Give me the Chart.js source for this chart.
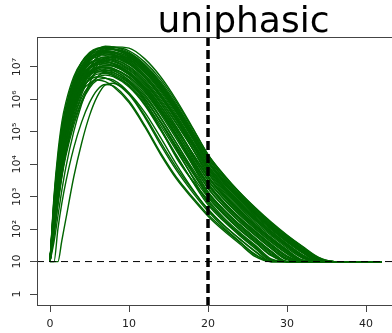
<!DOCTYPE html>
<html>
<head>
<meta charset="utf-8">
<title>uniphasic</title>
<script src="https://cdn.jsdelivr.net/npm/chart.js@4.4.1/dist/chart.umd.min.js"></script>
<style>
  html, body { margin: 0; padding: 0; background: #fff; overflow: hidden; }
  #wrap { width: 487px; height: 333px; }
</style>
</head>
<body>
<div id="wrap"><canvas id="chart" width="487" height="333"></canvas></div>
<script>
// ---------- Data (log10 viral load per simulated run) ----------
const TIMES = [0, 0.5, 1, 1.5, 2, 3, 4, 5, 6, 7, 8, 10, 12, 14, 16, 18, 20, 22, 24, 26, 28, 30, 32, 34, 36, 42];

const sim01 = [1, 2.7, 4.0, 4.95, 5.6, 6.5, 7.05, 7.38, 7.56, 7.64, 7.62, 7.45, 7.08, 6.55, 5.85, 5.05, 4.25, 3.65, 3.12, 2.64, 2.2, 1.8, 1.45, 1.12, 1, 1];
const sim02 = [1, 2.5, 3.8, 4.8, 5.5, 6.45, 7.0, 7.35, 7.55, 7.6, 7.56, 7.35, 6.95, 6.4, 5.7, 4.9, 4.1, 3.5, 2.98, 2.5, 2.07, 1.68, 1.33, 1.05, 1, 1];
const sim03 = [1, 2.3, 3.5, 4.45, 5.15, 6.15, 6.8, 7.2, 7.42, 7.53, 7.55, 7.42, 7.05, 6.5, 5.8, 5.0, 4.2, 3.58, 3.05, 2.57, 2.12, 1.72, 1.38, 1.06, 1, 1];
const sim04 = [1, 3.0, 4.35, 5.3, 5.9, 6.7, 7.15, 7.38, 7.48, 7.5, 7.45, 7.2, 6.75, 6.15, 5.45, 4.7, 3.95, 3.35, 2.85, 2.4, 1.98, 1.6, 1.26, 1.02, 1, 1];
const sim05 = [1, 2.4, 3.6, 4.55, 5.25, 6.2, 6.85, 7.2, 7.38, 7.45, 7.43, 7.25, 6.85, 6.3, 5.6, 4.85, 4.08, 3.48, 2.96, 2.48, 2.04, 1.64, 1.3, 1.03, 1, 1];
const sim06 = [1, 2.0, 3.0, 3.9, 4.6, 5.65, 6.4, 6.95, 7.3, 7.52, 7.62, 7.58, 7.25, 6.7, 5.98, 5.15, 4.3, 3.68, 3.14, 2.66, 2.22, 1.82, 1.46, 1.13, 1, 1];
const sim07 = [1, 2.6, 3.9, 4.85, 5.5, 6.4, 6.95, 7.25, 7.38, 7.4, 7.36, 7.12, 6.68, 6.08, 5.38, 4.62, 3.88, 3.28, 2.78, 2.33, 1.92, 1.54, 1.2, 1, 1, 1];
const sim08 = [1, 2.6, 3.85, 4.85, 5.5, 6.45, 7.0, 7.33, 7.5, 7.57, 7.56, 7.4, 7.02, 6.48, 5.78, 4.98, 4.18, 3.57, 3.04, 2.56, 2.12, 1.72, 1.37, 1.06, 1, 1];
const sim09 = [1, 2.5, 3.7, 4.65, 5.35, 6.25, 6.8, 7.1, 7.25, 7.3, 7.26, 7.0, 6.55, 5.95, 5.25, 4.5, 3.75, 3.15, 2.65, 2.2, 1.8, 1.42, 1.1, 1, 1, 1];
const sim10 = [1, 2.2, 3.35, 4.3, 5.0, 5.95, 6.6, 6.98, 7.17, 7.25, 7.23, 7.02, 6.6, 6.0, 5.28, 4.5, 3.72, 3.1, 2.6, 2.15, 1.74, 1.36, 1.05, 1, 1, 1];
const sim11 = [1, 2.7, 3.95, 4.85, 5.45, 6.3, 6.85, 7.1, 7.2, 7.18, 7.1, 6.82, 6.35, 5.72, 5.0, 4.25, 3.52, 2.94, 2.46, 2.02, 1.62, 1.26, 1, 1, 1, 1];
const sim12 = [1, 1.9, 2.85, 3.75, 4.45, 5.5, 6.25, 6.8, 7.12, 7.3, 7.35, 7.22, 6.82, 6.24, 5.52, 4.74, 3.95, 3.34, 2.82, 2.36, 1.94, 1.55, 1.2, 1, 1, 1];
const sim13 = [1, 2.35, 3.55, 4.5, 5.2, 6.1, 6.65, 6.97, 7.12, 7.15, 7.1, 6.85, 6.4, 5.8, 5.1, 4.35, 3.6, 3.0, 2.5, 2.06, 1.66, 1.3, 1.02, 1, 1, 1];
const sim14 = [1, 2.45, 3.7, 4.65, 5.35, 6.3, 6.9, 7.22, 7.36, 7.4, 7.38, 7.18, 6.76, 6.18, 5.46, 4.68, 3.9, 3.3, 2.8, 2.34, 1.92, 1.53, 1.18, 1, 1, 1];
const sim15 = [1, 2.0, 2.9, 3.7, 4.35, 5.3, 5.95, 6.4, 6.7, 6.85, 6.82, 6.55, 5.95, 5.1, 4.2, 3.5, 2.9, 2.35, 1.9, 1.5, 1.08, 1, 1, 1, 1, 1];
const sim16 = [1, 2.55, 3.75, 4.65, 5.25, 6.1, 6.6, 6.88, 7.0, 6.98, 6.9, 6.6, 6.1, 5.42, 4.65, 3.88, 3.15, 2.6, 2.14, 1.72, 1.32, 1, 1, 1, 1, 1];
const sim17 = [1, 2.1, 3.2, 4.1, 4.8, 5.75, 6.4, 6.75, 6.9, 6.95, 6.92, 6.7, 6.22, 5.55, 4.78, 4.0, 3.28, 2.7, 2.22, 1.8, 1.4, 1.05, 1, 1, 1, 1];
const sim18 = [1, 2.4, 3.6, 4.55, 5.2, 6.1, 6.65, 6.95, 7.07, 7.1, 7.05, 6.78, 6.3, 5.65, 4.9, 4.12, 3.38, 2.8, 2.32, 1.9, 1.5, 1.14, 1, 1, 1, 1];
const sim19 = [1, 2.3, 3.45, 4.35, 5.0, 5.9, 6.45, 6.75, 6.85, 6.83, 6.74, 6.45, 5.92, 5.2, 4.42, 3.65, 2.98, 2.44, 1.98, 1.58, 1.18, 1, 1, 1, 1, 1];
const sim20 = [1, 1, 2.0, 2.8, 3.45, 4.5, 5.3, 5.9, 6.3, 6.46, 6.42, 5.95, 5.2, 4.35, 3.6, 3.0, 2.45, 2.0, 1.6, 1.2, 1, 1, 1, 1, 1, 1];
const sim21 = [1, 1, 1, 1.65, 2.3, 3.6, 4.65, 5.5, 6.1, 6.45, 6.5, 6.15, 5.45, 4.6, 3.82, 3.15, 2.55, 2.05, 1.62, 1.22, 1, 1, 1, 1, 1, 1];
const sim22 = [1, 2.2, 3.3, 4.2, 4.85, 5.75, 6.25, 6.5, 6.6, 6.55, 6.4, 5.9, 5.15, 4.3, 3.55, 2.95, 2.4, 1.95, 1.55, 1.15, 1, 1, 1, 1, 1, 1];
const sim23 = [1, 1.8, 2.75, 3.6, 4.25, 5.2, 5.9, 6.35, 6.6, 6.65, 6.6, 6.2, 5.5, 4.68, 3.9, 3.22, 2.62, 2.12, 1.7, 1.32, 1, 1, 1, 1, 1, 1];
const sim24 = [1, 1.6, 2.4, 3.2, 3.9, 5.0, 5.85, 6.5, 6.95, 7.2, 7.32, 7.28, 6.92, 6.36, 5.66, 4.88, 4.1, 3.5, 2.98, 2.5, 2.06, 1.66, 1.3, 1.02, 1, 1];
const sim25 = [1, 2.55, 3.8, 4.78, 5.45, 6.38, 6.92, 7.25, 7.42, 7.48, 7.45, 7.25, 6.85, 6.3, 5.6, 4.82, 4.05, 3.44, 2.92, 2.45, 2.02, 1.63, 1.29, 1.02, 1, 1];
const sim26 = [1, 2.85, 4.15, 5.05, 5.65, 6.45, 6.9, 7.12, 7.2, 7.18, 7.1, 6.84, 6.38, 5.78, 5.08, 4.34, 3.62, 3.04, 2.55, 2.1, 1.7, 1.33, 1.03, 1, 1, 1];
const sim27 = [1, 2.3, 3.45, 4.4, 5.05, 5.95, 6.5, 6.82, 6.96, 7.0, 6.96, 6.7, 6.24, 5.6, 4.86, 4.08, 3.35, 2.77, 2.29, 1.86, 1.46, 1.1, 1, 1, 1, 1];
const sim28 = [1, 2.2, 3.4, 4.35, 5.05, 6.05, 6.72, 7.15, 7.4, 7.52, 7.54, 7.4, 7.0, 6.44, 5.72, 4.92, 4.12, 3.52, 3.0, 2.52, 2.08, 1.68, 1.34, 1.04, 1, 1];
const sim29 = [1, 2.35, 3.55, 4.5, 5.2, 6.15, 6.75, 7.1, 7.25, 7.3, 7.28, 7.08, 6.66, 6.08, 5.38, 4.62, 3.85, 3.24, 2.73, 2.28, 1.86, 1.48, 1.14, 1, 1, 1];
const sim30 = [1, 2.9, 4.2, 5.15, 5.78, 6.62, 7.15, 7.45, 7.58, 7.6, 7.55, 7.33, 6.92, 6.36, 5.66, 4.87, 4.08, 3.48, 2.96, 2.49, 2.06, 1.67, 1.32, 1.04, 1, 1];
const sim31 = [1, 2.45, 3.65, 4.55, 5.15, 6.0, 6.5, 6.78, 6.88, 6.86, 6.78, 6.5, 6.0, 5.32, 4.56, 3.8, 3.1, 2.55, 2.09, 1.68, 1.28, 1, 1, 1, 1, 1];
const sim32 = [1, 2.05, 3.1, 4.0, 4.7, 5.75, 6.5, 7.0, 7.3, 7.43, 7.45, 7.3, 6.9, 6.33, 5.62, 4.84, 4.05, 3.44, 2.93, 2.46, 2.03, 1.63, 1.28, 1.01, 1, 1];
const sim33 = [1, 2.65, 3.9, 4.85, 5.5, 6.38, 6.92, 7.2, 7.32, 7.35, 7.32, 7.1, 6.68, 6.1, 5.4, 4.64, 3.88, 3.27, 2.76, 2.3, 1.88, 1.5, 1.16, 1, 1, 1];
const sim34 = [1, 2.15, 3.3, 4.2, 4.9, 5.85, 6.45, 6.82, 6.98, 7.05, 7.02, 6.78, 6.32, 5.68, 4.93, 4.15, 3.42, 2.83, 2.34, 1.91, 1.51, 1.15, 1, 1, 1, 1];
const sim35 = [1, 2.4, 3.65, 4.6, 5.3, 6.25, 6.88, 7.25, 7.46, 7.57, 7.6, 7.5, 7.15, 6.62, 5.92, 5.12, 4.3, 3.67, 3.12, 2.63, 2.18, 1.77, 1.41, 1.09, 1, 1];
const sim36 = [1, 1.95, 2.95, 3.8, 4.45, 5.4, 6.05, 6.45, 6.68, 6.75, 6.7, 6.38, 5.82, 5.05, 4.25, 3.5, 2.85, 2.3, 1.86, 1.46, 1.06, 1, 1, 1, 1, 1];
const sim37 = [1, 2.3, 3.5, 4.45, 5.12, 6.05, 6.65, 7.0, 7.15, 7.2, 7.17, 6.93, 6.5, 5.88, 5.15, 4.3, 3.5, 2.92, 2.43, 2.0, 1.6, 1.24, 1, 1, 1, 1];
const sim38 = [1, 2.75, 4.05, 5.0, 5.62, 6.5, 7.02, 7.3, 7.42, 7.45, 7.4, 7.15, 6.7, 6.08, 5.35, 4.58, 3.8, 3.2, 2.7, 2.25, 1.84, 1.46, 1.12, 1, 1, 1];
const sim39 = [1, 2.6, 3.8, 4.7, 5.3, 6.1, 6.6, 6.85, 6.95, 6.92, 6.84, 6.52, 6.0, 5.3, 4.52, 3.75, 3.05, 2.5, 2.05, 1.64, 1.24, 1, 1, 1, 1, 1];
const sim40 = [1, 1.85, 2.8, 3.65, 4.35, 5.4, 6.15, 6.7, 7.05, 7.25, 7.3, 7.12, 6.7, 6.1, 5.38, 4.5, 3.65, 3.06, 2.57, 2.13, 1.72, 1.36, 1.04, 1, 1, 1];
const sim41 = [1, 2.5, 3.7, 4.6, 5.25, 6.12, 6.68, 6.98, 7.08, 7.1, 7.04, 6.76, 6.28, 5.62, 4.86, 4.05, 3.25, 2.7, 2.24, 1.82, 1.42, 1.08, 1, 1, 1, 1];
const sim42 = [1, 2.45, 3.7, 4.68, 5.38, 6.32, 6.92, 7.27, 7.44, 7.5, 7.48, 7.3, 6.9, 6.33, 5.62, 4.82, 3.98, 3.4, 2.9, 2.44, 2.02, 1.63, 1.28, 1.01, 1, 1];
const sim43 = [1, 2.15, 3.25, 4.15, 4.8, 5.7, 6.3, 6.62, 6.78, 6.8, 6.74, 6.42, 5.86, 5.1, 4.28, 3.48, 2.75, 2.24, 1.8, 1.4, 1.02, 1, 1, 1, 1, 1];
const sim44 = [1, 2.8, 4.1, 5.05, 5.7, 6.58, 7.12, 7.42, 7.56, 7.58, 7.54, 7.36, 6.98, 6.44, 5.75, 4.97, 4.2, 3.6, 3.07, 2.59, 2.15, 1.75, 1.4, 1.08, 1, 1];
const sim45 = [1, 2.25, 3.4, 4.3, 4.98, 5.9, 6.5, 6.84, 6.97, 7.0, 6.95, 6.66, 6.15, 5.45, 4.65, 3.82, 3.0, 2.46, 2.0, 1.6, 1.2, 1, 1, 1, 1, 1];
const sim46 = [1, 1.95, 3.0, 3.9, 4.6, 5.6, 6.25, 6.65, 6.84, 6.9, 6.88, 6.58, 6.04, 5.3, 4.48, 3.62, 2.8, 2.28, 1.84, 1.44, 1.04, 1, 1, 1, 1, 1];
const sim47 = [1, 2.5, 3.72, 4.65, 5.3, 6.18, 6.72, 7.02, 7.13, 7.15, 7.12, 6.9, 6.45, 5.8, 5.02, 4.2, 3.4, 2.84, 2.36, 1.94, 1.54, 1.18, 1, 1, 1, 1];
const sim48 = [1, 2.4, 3.55, 4.45, 5.05, 5.85, 6.35, 6.6, 6.7, 6.66, 6.55, 6.2, 5.6, 4.82, 4.0, 3.25, 2.6, 2.12, 1.7, 1.3, 1, 1, 1, 1, 1, 1];
const sim49 = [1, 2.6, 3.85, 4.78, 5.42, 6.28, 6.82, 7.1, 7.22, 7.25, 7.2, 6.96, 6.52, 5.9, 5.15, 4.36, 3.6, 3.02, 2.52, 2.08, 1.68, 1.3, 1.02, 1, 1, 1];
const sim50 = [1, 2.0, 3.05, 3.95, 4.65, 5.65, 6.35, 6.75, 6.96, 7.05, 7.04, 6.82, 6.35, 5.68, 4.9, 4.0, 3.15, 2.6, 2.14, 1.72, 1.32, 1, 1, 1, 1, 1];

const RUNS = [sim01, sim02, sim03, sim04, sim05, sim06, sim07, sim08, sim09, sim10,
              sim11, sim12, sim13, sim14, sim15, sim16, sim17, sim18, sim19, sim20,
              sim21, sim22, sim23, sim24, sim25, sim26, sim27, sim28, sim29, sim30,
              sim31, sim32, sim33, sim34, sim35, sim36, sim37, sim38, sim39, sim40,
              sim41, sim42, sim43, sim44, sim45, sim46, sim47, sim48, sim49, sim50];

const X_TICKS = [0, 10, 20, 30, 40];
const Y_TICKS = [0, 1, 2, 3, 4, 5, 6, 7];
const Y_LABELS = ["1", "10", "10\u00B2", "10\u00B3", "10\u2074", "10\u2075", "10\u2076", "10\u2077"];

const DETECTION_LOG = 1;   // horizontal dashed line (10 copies)
const CUTOFF_DAY = 20;     // vertical dashed line
const TITLE = "uniphasic";

// ---------- Style ----------
const GREEN = "#006400";
const AXIS = "#444";
const FONT = '"DejaVu Sans", sans-serif';

// ---------- Extras drawn on top: box, reference lines, title, y labels ----------
const extras = {
  id: "extras",
  afterDatasetsDraw(chart) {
    const { ctx, chartArea: a, scales } = chart;
    const xs = scales.x, ys = scales.y;
    ctx.save();

    // detection limit
    const yd = ys.getPixelForValue(DETECTION_LOG);
    ctx.strokeStyle = "#000";
    ctx.lineWidth = 1;
    ctx.setLineDash([7, 5]);
    ctx.beginPath();
    ctx.moveTo(a.left, yd);
    ctx.lineTo(a.right, yd);
    ctx.stroke();

    // cutoff day
    const xc = xs.getPixelForValue(CUTOFF_DAY);
    ctx.lineWidth = 3.5;
    ctx.setLineDash([9, 4]);
    ctx.beginPath();
    ctx.moveTo(xc, a.top);
    ctx.lineTo(xc, a.bottom);
    ctx.stroke();
    ctx.setLineDash([]);

    // box
    ctx.strokeStyle = AXIS;
    ctx.lineWidth = 1;
    ctx.strokeRect(a.left + 0.5, a.top + 0.5, a.right - a.left, a.bottom - a.top);

    // y tick labels, rotated like R's las = 0
    ctx.fillStyle = "#222";
    ctx.font = "11px " + FONT;
    ctx.textAlign = "center";
    ctx.textBaseline = "alphabetic";
    Y_TICKS.forEach((v, i) => {
      const y = ys.getPixelForValue(v);
      ctx.save();
      ctx.translate(20, y);
      ctx.rotate(-Math.PI / 2);
      ctx.fillText(Y_LABELS[i], 0, 0);
      ctx.restore();
    });

    // title
    ctx.fillStyle = "#000";
    ctx.font = "36px " + FONT;
    ctx.fillText(TITLE, 243.5, 32);
    ctx.restore();
  },
};

const datasets = RUNS.map((vals) => ({
  data: vals.map((v, i) => ({ x: TIMES[i], y: v })),
  borderColor: GREEN,
  borderWidth: 1.4,
  pointRadius: 0,
  fill: false,
  cubicInterpolationMode: "monotone",
}));

new Chart(document.getElementById("chart"), {
  type: "line",
  data: { datasets },
  plugins: [extras],
  options: {
    responsive: false,
    animation: false,
    events: [],
    layout: { padding: { top: 37, right: 37, left: 0, bottom: 0 } },
    plugins: { legend: { display: false }, tooltip: { enabled: false }, title: { display: false } },
    scales: {
      x: {
        type: "linear",
        min: -1.646,
        max: 50.63,
        afterBuildTicks: (s) => { s.ticks = X_TICKS.map((v) => ({ value: v })); },
        afterFit: (s) => { s.height = 28; },
        grid: { drawOnChartArea: false, drawTicks: true, tickLength: 7, color: AXIS },
        border: { display: false },
        ticks: { color: "#222", font: { family: FONT, size: 11 }, padding: 6, maxRotation: 0 },
      },
      y: {
        type: "linear",
        min: -0.339,
        max: 7.925,
        afterBuildTicks: (s) => { s.ticks = Y_TICKS.map((v) => ({ value: v })); },
        afterFit: (s) => { s.width = 37; },
        grid: { drawOnChartArea: false, drawTicks: true, tickLength: 7, color: AXIS },
        border: { display: false },
        ticks: { display: false },
      },
    },
  },
});
</script>
</body>
</html>
